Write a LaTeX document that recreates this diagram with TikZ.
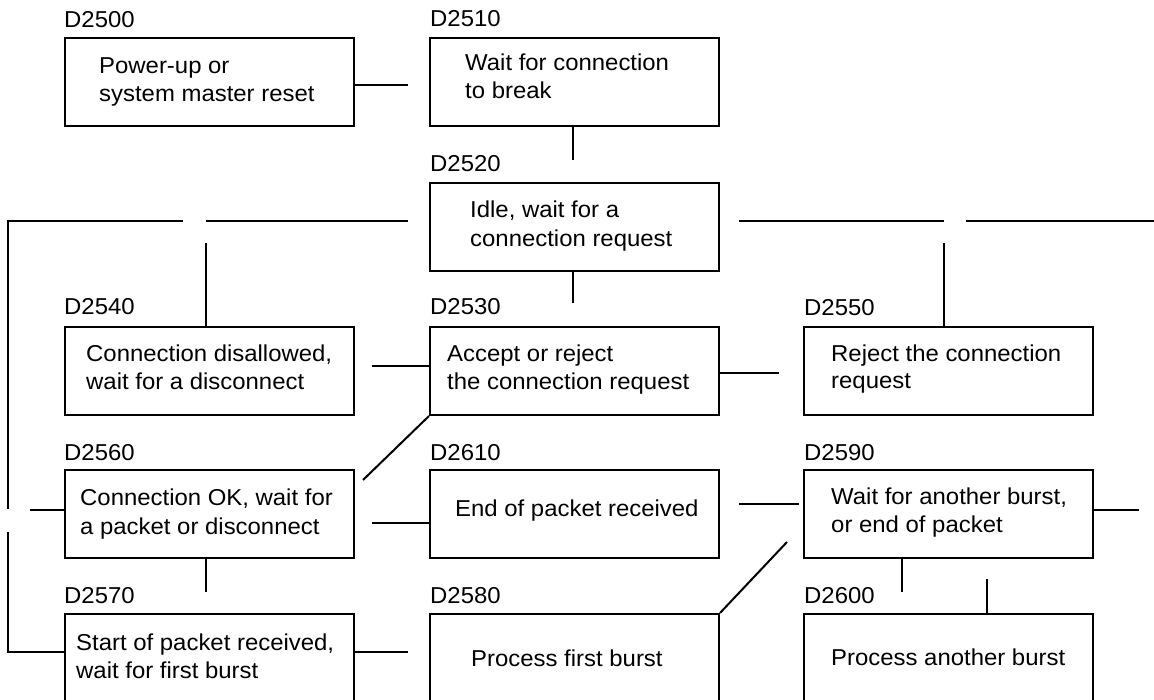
\documentclass[tikz,border=0pt]{standalone}
\usepackage{fontspec}
\setmainfont{Liberation Sans}[FakeStretch=1.04]
\begin{document}
\begin{tikzpicture}[x=1pt,y=-1pt,
  box/.style={draw, line width=2pt, inner sep=0pt, minimum width=289pt, minimum height=88pt, anchor=north west},
  lbl/.style={anchor=base west, inner sep=0pt, font=\fontsize{23pt}{28pt}\selectfont},
  txt/.style={anchor=base west, inner sep=0pt, font=\fontsize{23pt}{28pt}\selectfont},
  conn/.style={line width=2pt}]
\clip (0,0) rectangle (1154,700);
\fill[white] (0,0) rectangle (1154,700);
% boxes
\node[box] (b2500) at (64,37) {};
\node[box] (b2510) at (429,37) {};
\node[box] (b2520) at (429,182) {};
\node[box] (b2540) at (64,326) {};
\node[box] (b2530) at (429,326) {};
\node[box] (b2550) at (803,326) {};
\node[box] (b2560) at (64,469) {};
\node[box] (b2610) at (429,469) {};
\node[box] (b2590) at (803,469) {};
\node[box] (b2570) at (64,613) {};
\node[box] (b2580) at (429,613) {};
\node[box] (b2600) at (803,613) {};
% labels
\node[lbl] (l2500) at (64,28) {D2500};
\node[lbl] (l2510) at (430,27) {D2510};
\node[lbl] (l2520) at (430,172) {D2520};
\node[lbl] (l2540) at (64,315) {D2540};
\node[lbl] (l2530) at (430,315) {D2530};
\node[lbl] (l2550) at (804,316) {D2550};
\node[lbl] (l2560) at (64,460) {D2560};
\node[lbl] (l2610) at (430,460) {D2610};
\node[lbl] (l2590) at (804,460) {D2590};
\node[lbl] (l2570) at (64,603) {D2570};
\node[lbl] (l2580) at (430,603) {D2580};
\node[lbl] (l2600) at (804,603) {D2600};
% texts
\node[txt] (t2500a) at (99,74) {Power-up or};
\node[txt] (t2500b) at (99,102) {system master reset};
\node[txt] (t2510a) at (465,71) {Wait for connection};
\node[txt] (t2510b) at (465,99) {to break};
\node[txt] (t2520a) at (470,218) {Idle, wait for a};
\node[txt] (t2520b) at (470,247) {connection request};
\node[txt] (t2540a) at (86,362) {Connection disallowed,};
\node[txt] (t2540b) at (86,390) {wait for a disconnect};
\node[txt] (t2530a) at (447,362) {Accept or reject};
\node[txt] (t2530b) at (447,390) {the connection request};
\node[txt] (t2550a) at (831,362) {Reject the connection};
\node[txt] (t2550b) at (831,389) {request};
\node[txt] (t2560a) at (80,505) {Connection OK, wait for};
\node[txt] (t2560b) at (80,534) {a packet or disconnect};
\node[txt] (t2610a) at (455,516) {End of packet received};
\node[txt] (t2590a) at (831,504) {Wait for another burst,};
\node[txt] (t2590b) at (831,532) {or end of packet};
\node[txt] (t2570a) at (76,650) {Start of packet received,};
\node[txt] (t2570b) at (76,678) {wait for first burst};
\node[txt] (t2580a) at (471,666) {Process first burst};
\node[txt] (t2600a) at (831,665) {Process another burst};
% free ends
\coordinate (e1) at (408,85);
\coordinate (e2) at (573,160);
\coordinate (L1) at (408,221);
\coordinate (L2) at (206,221);
\coordinate (L3) at (183,221);
\coordinate (L4) at (8,221);
\coordinate (L5) at (8,509);
\coordinate (L6) at (206,243);
\coordinate (L7) at (30,510);
\coordinate (L8) at (8,532);
\coordinate (L9) at (8,652);
\coordinate (R1) at (739,221);
\coordinate (R2) at (944,221);
\coordinate (R3) at (966,221);
\coordinate (R4) at (1154,221);
\coordinate (R5) at (944,243);
\coordinate (e5) at (573,303);
\coordinate (e6) at (372,366);
\coordinate (e7) at (779,373);
\coordinate (e8) at (363,480);
\coordinate (e9) at (372,523);
\coordinate (e10a) at (739,504);
\coordinate (e10b) at (799,504);
\coordinate (e11) at (1139,510);
\coordinate (e12) at (206,592);
\coordinate (e13) at (408,652);
\coordinate (e14) at (787,542);
\coordinate (e15) at (902,592);
\coordinate (e16) at (987,579);
% connectors
\draw[conn] (b2500.east |- e1) -- (e1);
\draw[conn] (b2510.south -| e2) -- (e2);
\draw[conn] (L1) -- (L2);
\draw[conn] (L3) -- (L4) -- (L5);
\draw[conn] (L6) -- (b2540.north -| L6);
\draw[conn] (L7) -- (b2560.west |- L7);
\draw[conn] (L8) -- (L9) -- (b2570.west |- L9);
\draw[conn] (R1) -- (R2);
\draw[conn] (R3) -- (R4);
\draw[conn] (R5) -- (b2550.north -| R5);
\draw[conn] (b2520.south -| e5) -- (e5);
\draw[conn] (e6) -- (b2530.west |- e6);
\draw[conn] (b2530.east |- e7) -- (e7);
\draw[conn] (b2530.south west) -- (e8);
\draw[conn] (e9) -- (b2610.west |- e9);
\draw[conn] (e10a) -- (e10b);
\draw[conn] (b2590.east |- e11) -- (e11);
\draw[conn] (b2560.south -| e12) -- (e12);
\draw[conn] (b2570.east |- e13) -- (e13);
\draw[conn] (b2580.north east) -- (e14);
\draw[conn] (b2590.south -| e15) -- (e15);
\draw[conn] (e16) -- (b2600.north -| e16);
\end{tikzpicture}
\end{document}
